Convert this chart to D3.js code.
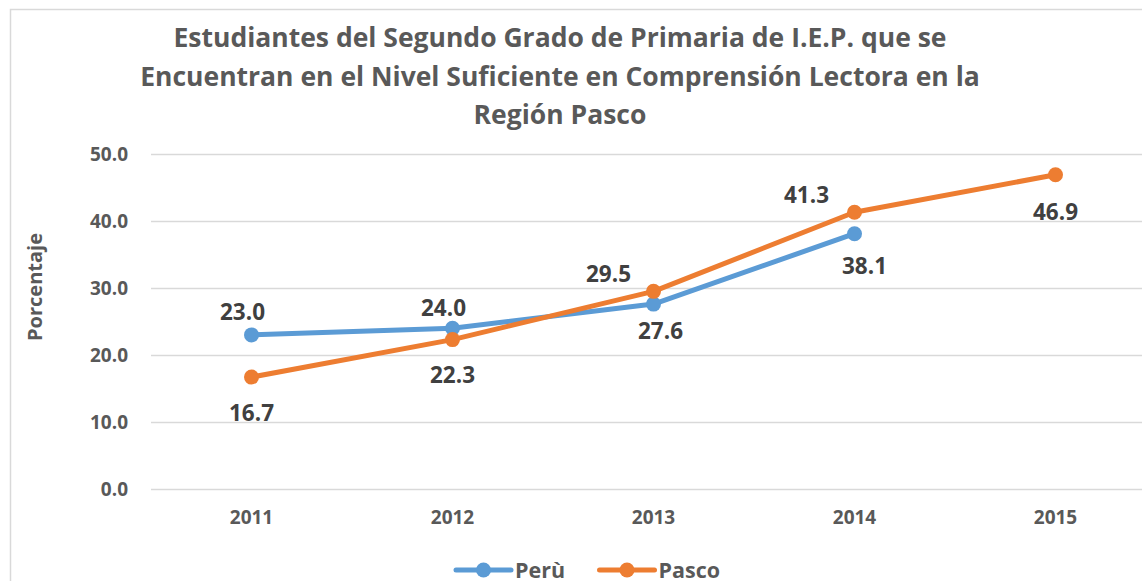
<!DOCTYPE html>
<html>
<head>
<meta charset="utf-8">
<script src="https://cdn.jsdelivr.net/npm/d3@7"></script>
<style>
  body { margin: 0; background: #fff; }
  svg { display: block; font-family: "Open Sans", "DejaVu Sans", sans-serif; font-weight: bold; }
</style>
</head>
<body>
<script>
// data
var years = ['2011', '2012', '2013', '2014', '2015'];
var peruValues = [23.0, 24.0, 27.6, 38.1];
var pascoValues = [16.7, 22.3, 29.5, 41.3, 46.9];
var yTicks = [0, 10, 20, 30, 40, 50];
var titleLines = [
  'Estudiantes del Segundo Grado de Primaria de I.E.P. que se',
  'Encuentran en el Nivel Suficiente en Comprensión Lectora en la',
  'Región Pasco'
];

// label offsets from the point (placement only)
var peruLabelPos = [[-9, -23], [-9, -20], [7, 27], [10, 32]];
var pascoLabelPos = [[0, 36], [0, 36], [-45, -17], [-48, -17], [0, 37]];

var width = 1142, height = 581;

var svg = d3.select('body').append('svg')
  .attr('width', width)
  .attr('height', height);

// chart border
svg.append('rect')
  .attr('x', 10.5).attr('y', 9.5)
  .attr('width', 1200).attr('height', 600)
  .attr('fill', 'none')
  .attr('stroke', '#d9d9d9')
  .attr('stroke-width', 1.5);

var x = d3.scaleBand().domain(years).range([151, 1156]);
var y = d3.scaleLinear().domain([0, 50]).range([489, 154]);
var cx = function(d) { return x(d) + x.bandwidth() / 2; };

// title
svg.append('g').selectAll('text')
  .data(titleLines)
  .enter().append('text')
  .attr('x', 560)
  .attr('y', function(d, i) { return 38 + i * 38.5; })
  .attr('dy', '0.35em')
  .attr('text-anchor', 'middle')
  .attr('fill', '#595959')
  .style('font-size', '26.5px')
  .text(function(d) { return d; });

// gridlines
svg.append('g').selectAll('line')
  .data(yTicks)
  .enter().append('line')
  .attr('x1', 151).attr('x2', width)
  .attr('y1', function(d) { return Math.round(y(d)) + 0.5; })
  .attr('y2', function(d) { return Math.round(y(d)) + 0.5; })
  .attr('stroke', '#d9d9d9')
  .attr('stroke-width', 1.5);

// y axis
var yAxis = svg.append('g')
  .attr('transform', 'translate(128,0)')
  .call(d3.axisLeft(y).tickValues(yTicks).tickFormat(d3.format('.1f')).tickSize(0).tickPadding(0));
yAxis.select('.domain').remove();
yAxis.selectAll('text')
  .attr('fill', '#595959')
  .style('font-size', '19px')
  .style('font-family', '"Open Sans", sans-serif')
  .style('font-weight', 'bold');

// x axis
var xAxis = svg.append('g')
  .attr('transform', 'translate(0,489)')
  .call(d3.axisBottom(x).tickSize(0).tickPadding(22));
xAxis.select('.domain').remove();
xAxis.selectAll('text')
  .attr('fill', '#595959')
  .style('font-size', '19px')
  .style('font-family', '"Open Sans", sans-serif')
  .style('font-weight', 'bold');

// y title
svg.append('text')
  .attr('transform', 'translate(35,287) rotate(-90)')
  .attr('dy', '0.35em')
  .attr('text-anchor', 'middle')
  .attr('fill', '#595959')
  .style('font-size', '20px')
  .text('Porcentaje');

var series = [
  { name: 'Perù', color: '#5B9BD5', values: peruValues, pos: peruLabelPos },
  { name: 'Pasco', color: '#ED7D31', values: pascoValues, pos: pascoLabelPos }
];

var line = d3.line()
  .x(function(d, i) { return cx(years[i]); })
  .y(function(d) { return y(d); });

series.forEach(function(s) {
  var g = svg.append('g');
  g.append('path')
    .datum(s.values)
    .attr('d', line)
    .attr('fill', 'none')
    .attr('stroke', s.color)
    .attr('stroke-width', 5)
    .attr('stroke-linejoin', 'round')
    .attr('stroke-linecap', 'round');
  g.selectAll('circle')
    .data(s.values)
    .enter().append('circle')
    .attr('cx', function(d, i) { return cx(years[i]); })
    .attr('cy', function(d) { return y(d); })
    .attr('r', 7.5)
    .attr('fill', s.color);
});

series.forEach(function(s) {
  svg.append('g').selectAll('text')
    .data(s.values)
    .enter().append('text')
    .attr('x', function(d, i) { return cx(years[i]) + s.pos[i][0]; })
    .attr('y', function(d, i) { return y(d) + s.pos[i][1]; })
    .attr('dy', '0.35em')
    .attr('text-anchor', 'middle')
    .attr('fill', '#404040')
    .style('font-size', '22.5px')
    .text(function(d) { return d3.format('.1f')(d); });
});

// legend
var legend = svg.append('g').selectAll('g')
  .data(series)
  .enter().append('g')
  .attr('transform', function(d, i) { return 'translate(' + (456 + i * 143.5) + ',570)'; });
legend.append('line')
  .attr('x1', 0).attr('x2', 55)
  .attr('stroke', function(d) { return d.color; })
  .attr('stroke-width', 5)
  .attr('stroke-linecap', 'round');
legend.append('circle')
  .attr('cx', 27.5)
  .attr('r', 7.5)
  .attr('fill', function(d) { return d.color; });
legend.append('text')
  .attr('x', 59)
  .attr('dy', '0.35em')
  .attr('fill', '#595959')
  .style('font-size', '21.5px')
  .text(function(d) { return d.name; });
</script>
</body>
</html>
